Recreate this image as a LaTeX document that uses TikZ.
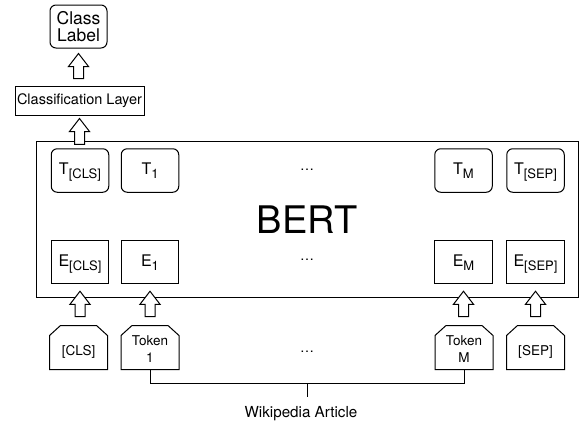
\documentclass[tikz,border=0pt]{standalone}
\usepackage{fontspec}
\setmainfont{TeX Gyre Heros}
\usetikzlibrary{calc}
\newcommand\subt[1]{\raisebox{-4pt}{\fontsize{13}{14}\selectfont #1}}
\newcommand\blockup[2]{\draw[barrow] let \p1=#1, \p2=#2 in
  (\x2,\y2) -- (\x2+10pt,\y2-13pt) -- (\x2+5pt,\y2-13pt) -- (\x2+5pt,\y1)
  -- (\x2-5pt,\y1) -- (\x2-5pt,\y2-13pt) -- (\x2-10pt,\y2-13pt) -- cycle;}
\newcommand\tokout[1]{\draw[line join=miter] (#1.south west) -- ($(#1.north west)+(0,10)$)
  -- ($(#1.north west)+(11,0)$) -- ($(#1.north east)+(-11,0)$)
  -- ($(#1.north east)+(0,10)$) -- (#1.south east) -- cycle;}
\begin{document}
\begin{tikzpicture}[x=1pt,y=-1pt,line width=1pt,
  box/.style={draw, minimum width=57.5pt, minimum height=43.5pt, inner sep=0pt,
    text height=11.5pt, text depth=3pt, font=\fontsize{16}{18}\selectfont},
  rbox/.style={box, rounded corners=6pt},
  tokbox/.style={minimum width=57pt, minimum height=43pt, inner sep=0pt},
  toklab/.style={align=center, font=\fontsize{13.5}{16.6}\selectfont},
  dots/.style={anchor=base, font=\fontsize{14}{14}\selectfont},
  barrow/.style={draw, fill=white, line join=miter}
]
\useasboundingbox (0,0) rectangle (580,421);

% top
\node[draw, rounded corners=6pt, minimum width=57pt, minimum height=43pt, inner sep=0pt,
  align=center, font=\fontsize{17.5}{17}\selectfont] (cl) at (78.5,26.5) {Class\\Label};
\node[draw, minimum width=129pt, minimum height=29pt, inner sep=0pt,
  font=\fontsize{14.5}{16}\selectfont] (layer) at (79.5,100.5) {Classification Layer};

% BERT
\node[draw, minimum width=542pt, minimum height=156pt, inner sep=0pt] (bert) at (307,219) {};
\node[anchor=base, font=\fontsize{38}{40}\selectfont] (berttxt) at (307,233) {BERT};

\node[rbox] (tcls) at (80,170.5) {T\subt{[CLS]}};
\node[rbox] (t1) at (150,170.5) {T\subt{1}};
\node[rbox] (tm) at (463.5,170.5) {T\subt{M}};
\node[rbox] (tsep) at (535.5,170.5) {T\subt{[SEP]}};
\node[dots] (dt) at (307,170) {…};

\node[box] (ecls) at (80,262) {E\subt{[CLS]}};
\node[box] (e1) at (150,262) {E\subt{1}};
\node[box] (em) at (463.5,262) {E\subt{M}};
\node[box] (esep) at (535.5,262) {E\subt{[SEP]}};
\node[dots] (de) at (307,260) {…};

% tokens
\node[tokbox, label={[toklab, yshift=-4pt]center:{[CLS]}}] (tokcls) at (78.5,347.5) {};
\node[tokbox, label={[toklab, yshift=-1.6pt]center:{Token\\1}}] (tok1) at (150,347.5) {};
\node[tokbox, label={[toklab, yshift=-1.6pt]center:{Token\\M}}] (tokm) at (464,347.5) {};
\node[tokbox, label={[toklab, yshift=-4pt]center:{[SEP]}}] (toksep) at (535.5,347.5) {};
\tokout{tokcls}
\tokout{tok1}
\tokout{tokm}
\tokout{toksep}
\node[dots] (dk) at (307,352) {…};

% arrows
\blockup{($(layer.north)+(0,-7)$)}{($(cl.south)+(0,5)$)}
\blockup{($(tcls.north)+(0,-4)$)}{($(layer.south)+(0,3)$)}
\blockup{($(tokcls.north)+(0,-9)$)}{($(ecls.south)+(0,7)$)}
\blockup{($(tok1.north)+(0,-9)$)}{($(e1.south)+(0,7)$)}
\blockup{($(tokm.north)+(0,-9)$)}{($(em.south)+(0,7)$)}
\blockup{($(toksep.north)+(0,-9)$)}{($(esep.south)+(0,7)$)}

% article
\draw (tok1.south) -- ++(0,14) -| (tokm.south);
\coordinate (mid) at (307,383);
\coordinate (tick) at (307,397);
\draw (mid) -- (tick);
\node[anchor=base, font=\fontsize{15.2}{16}\selectfont] (wiki) at (301,417) {Wikipedia Article};
\end{tikzpicture}
\end{document}
